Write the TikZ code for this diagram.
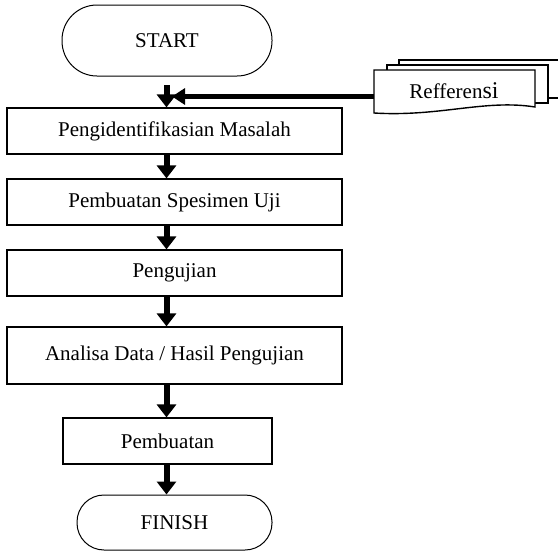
\documentclass[tikz,border=0pt]{standalone}
\usepackage{fontspec}
\setmainfont{Liberation Serif}
\usetikzlibrary{arrows.meta}
\begin{document}
\begin{tikzpicture}[x=1pt,y=-1pt,
  every node/.style={font=\fontsize{21}{25}\selectfont},
  procbox/.style={draw,line width=1.2pt,rectangle,minimum height=46pt,inner sep=0pt},
  termbox/.style={draw,line width=1pt,rectangle,inner sep=0pt},
  flow/.style={line width=6pt,-{Triangle[length=13pt,width=19pt]}},
  feed/.style={line width=5pt,-{Triangle[length=13pt,width=16pt]}},
  docshape/.style={draw,line width=1.4pt,fill=white}]
\useasboundingbox (0,0) rectangle (558,552);
\clip (0,0) rectangle (558,552);
% terminals and process boxes
\node[termbox,minimum width=210pt,minimum height=71pt,rounded corners=35pt] (start) at (167,40.5) {START};
\node[procbox,minimum width=335pt] (b1) at (174.5,131) {Pengidentifikasian Masalah};
\node[procbox,minimum width=335pt] (b2) at (174.5,202) {Pembuatan Spesimen Uji};
\node[procbox,minimum width=335pt] (b3) at (174.5,273) {Pengujian};
\node[procbox,minimum width=335pt,minimum height=57pt] (b4) at (174.5,355.5) {Analisa Data / Hasil Pengujian};
\node[procbox,minimum width=209pt] (b5) at (167.5,441) {Pembuatan};
\node[termbox,minimum width=195pt,minimum height=55pt,rounded corners=27pt] (fin) at (174.5,522.5) {FINISH};
% document stack
\draw[docshape] (399,60) rectangle (575,98);
\draw[docshape] (387,65) rectangle (548,103);
\draw[docshape] (374,70) -- (535,70) -- (535,107)
  .. controls (485,99) and (440,117) .. (374,113) -- cycle;
\node (ref) at (454,91) {Refferen{\fontsize{24}{25}\selectfont si}};
% connectors
\coordinate (ax) at (166.5,0);
\coordinate (stubtop) at (166.5,85);
\coordinate (refl) at (374,96.5);
\coordinate (reftip) at (172,96.5);
\draw[flow] (stubtop) -- (b1.north -| ax);
\draw[feed] (refl) -- (reftip);
\draw[flow] (b1.south -| ax) -- (b2.north -| ax);
\draw[flow] (b2.south -| ax) -- (b3.north -| ax);
\draw[flow] (b3.south -| ax) -- (b4.north -| ax);
\draw[flow] (b4.south -| ax) -- (b5.north -| ax);
\draw[flow] (b5.south -| ax) -- (fin.north -| ax);
\end{tikzpicture}
\end{document}
